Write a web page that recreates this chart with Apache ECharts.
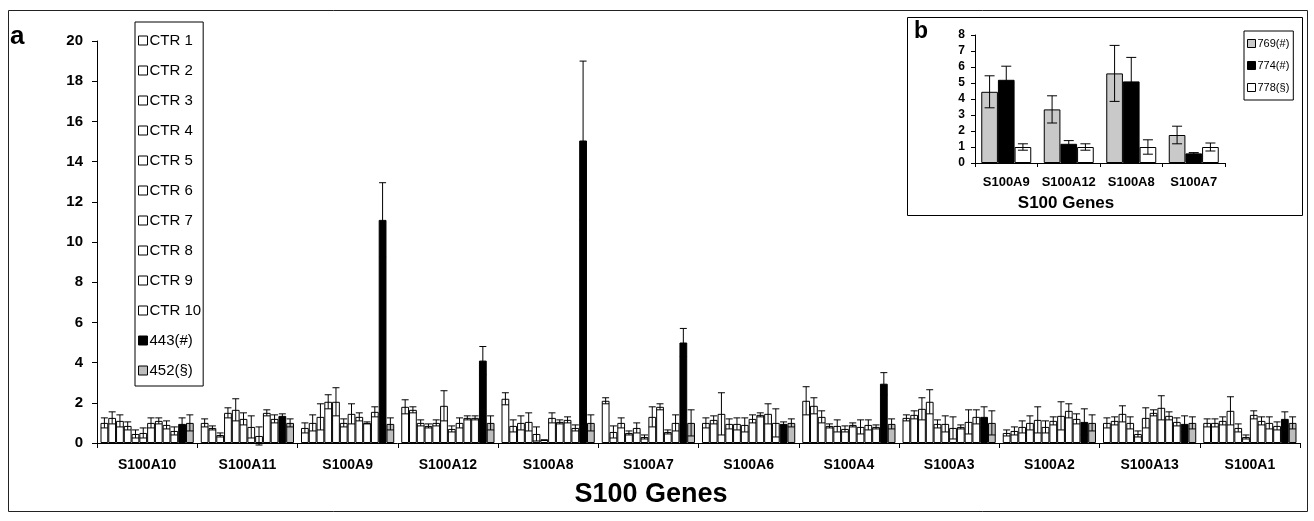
<!DOCTYPE html>
<html><head><meta charset="utf-8">
<script src="https://cdn.jsdelivr.net/npm/echarts@6/dist/echarts.min.js"></script>
<style>html,body{margin:0;padding:0;background:#fff}#c{width:1314px;height:521px}</style>
</head><body><div id="c"></div>
<script>
// ---- main panel (a) ----
const genes = ['S100A10','S100A11','S100A9','S100A12','S100A8','S100A7','S100A6','S100A4','S100A3','S100A2','S100A13','S100A1'];
const seriesNames = ['CTR 1','CTR 2','CTR 3','CTR 4','CTR 5','CTR 6','CTR 7','CTR 8','CTR 9','CTR 10','443(#)','452(§)'];
// values per gene, in series order (CTR1..CTR10, 443, 452)
const vS100A10 = [1.0, 1.25, 1.1, 0.85, 0.45, 0.5, 1.0, 1.1, 0.9, 0.6, 0.95, 1.0];
const vS100A11 = [1.0, 0.75, 0.4, 1.5, 1.65, 1.2, 0.8, 0.35, 1.5, 1.2, 1.35, 1.0];
const vS100A9  = [0.75, 1.0, 1.3, 2.05, 2.05, 1.0, 1.45, 1.3, 1.0, 1.55, 11.1, 0.95];
const vS100A12 = [1.8, 1.65, 1.0, 0.85, 1.0, 1.85, 0.7, 1.0, 1.25, 1.25, 4.1, 1.0];
const vS100A8  = [2.2, 0.85, 1.0, 1.05, 0.45, 0.15, 1.25, 1.05, 1.15, 0.75, 15.05, 1.0];
const vS100A7  = [2.1, 0.55, 1.0, 0.5, 0.75, 0.3, 1.3, 1.8, 0.55, 1.0, 5.0, 1.0];
const vS100A6  = [1.0, 1.15, 1.45, 0.95, 0.95, 0.9, 1.2, 1.4, 1.45, 1.0, 0.95, 1.0];
const vS100A4  = [2.1, 1.85, 1.3, 0.85, 0.85, 0.7, 0.9, 0.8, 0.9, 0.8, 2.95, 0.95];
const vS100A3  = [1.25, 1.4, 1.7, 2.05, 0.95, 0.95, 0.75, 0.8, 1.05, 1.3, 1.3, 1.0];
const vS100A2  = [0.5, 0.6, 0.8, 1.0, 1.15, 0.8, 1.1, 1.35, 1.6, 1.2, 1.05, 1.0];
const vS100A13 = [1.0, 1.1, 1.45, 1.0, 0.45, 1.25, 1.5, 1.75, 1.35, 1.05, 0.95, 1.0];
const vS100A1  = [1.0, 1.0, 1.1, 1.6, 0.75, 0.3, 1.4, 1.1, 1.0, 0.85, 1.2, 1.0];
// error bars (± SD) per gene
const eS100A10 = [0.25, 0.3, 0.3, 0.2, 0.2, 0.25, 0.25, 0.15, 0.2, 0.2, 0.3, 0.4];
const eS100A11 = [0.2, 0.1, 0.1, 0.25, 0.55, 0.3, 0.55, 0.45, 0.15, 0.2, 0.1, 0.2];
const eS100A9  = [0.25, 0.4, 0.65, 0.35, 0.7, 0.2, 0.5, 0.2, 0.05, 0.25, 1.85, 0.3];
const eS100A12 = [0.35, 0.15, 0.15, 0.1, 0.15, 0.75, 0.15, 0.25, 0.1, 0.1, 0.7, 0.35];
const eS100A8  = [0.3, 0.3, 0.35, 0.45, 0.35, 0.0, 0.25, 0.1, 0.15, 0.15, 3.95, 0.4];
const eS100A7  = [0.15, 0.3, 0.25, 0.1, 0.25, 0.1, 0.5, 0.15, 0.1, 0.4, 0.7, 0.65];
const eS100A6  = [0.25, 0.2, 1.05, 0.25, 0.3, 0.35, 0.2, 0.1, 0.5, 0.7, 0.1, 0.2];
const eS100A4  = [0.7, 0.4, 0.3, 0.1, 0.3, 0.15, 0.1, 0.35, 0.25, 0.1, 0.55, 0.25];
const eS100A3  = [0.15, 0.2, 0.55, 0.6, 0.2, 0.4, 0.55, 0.1, 0.6, 0.35, 0.5, 0.6];
const eS100A2  = [0.15, 0.2, 0.3, 0.35, 0.65, 0.3, 0.2, 0.7, 0.35, 0.25, 0.65, 0.4];
const eS100A13 = [0.25, 0.2, 0.4, 0.3, 0.15, 0.5, 0.15, 0.6, 0.2, 0.2, 0.4, 0.3];
const eS100A1  = [0.2, 0.2, 0.2, 0.7, 0.2, 0.1, 0.2, 0.2, 0.3, 0.2, 0.35, 0.3];
const yTicksMain = [0, 2, 4, 6, 8, 10, 12, 14, 16, 18, 20];

// ---- inset panel (b) ----
const insetGenes = ['S100A9','S100A12','S100A8','S100A7'];
const insetNames = ['769(#)','774(#)','778(§)'];
const v769 = [4.45, 3.35, 5.6, 1.75];
const v774 = [5.2, 1.2, 5.1, 0.6];
const v778 = [1.0, 1.0, 1.0, 1.0];
const e769 = [1.0, 0.85, 1.75, 0.55];
const e774 = [0.85, 0.2, 1.5, 0.05];
const e778 = [0.2, 0.2, 0.45, 0.25];

const mainVals = [vS100A10,vS100A11,vS100A9,vS100A12,vS100A8,vS100A7,vS100A6,vS100A4,vS100A3,vS100A2,vS100A13,vS100A1];
const mainErrs = [eS100A10,eS100A11,eS100A9,eS100A12,eS100A8,eS100A7,eS100A6,eS100A4,eS100A3,eS100A2,eS100A13,eS100A1];
const mainColors = ['#fff','#fff','#fff','#fff','#fff','#fff','#fff','#fff','#fff','#fff','#000','#bdbdbd'];
const insetVals = [v769, v774, v778];
const insetErrs = [e769, e774, e778];
const insetColors = ['#c9c9c9','#000','#fff'];

const FONT = 'Arial, "Liberation Sans", sans-serif';
const MAIN_GAP = 0.07, INSET_GAP = 0.2;

function errRenderer(nSeries, gap, capFrac) {
  return function (params, api) {
    const cat = api.value(0), s = api.value(1), v = api.value(2), e = api.value(3);
    const band = api.size([1, 0])[0];
    const groupW = band * (1 - gap);
    const bw = groupW / nSeries;
    const cx = api.coord([cat, v])[0] - groupW / 2 + (s + 0.5) * bw;
    const yt = api.coord([cat, v + e])[1];
    const yb = api.coord([cat, v - e])[1];
    const hw = bw * capFrac / 2;
    const st = { stroke: '#000', lineWidth: 1 };
    return { type: 'group', children: [
      { type: 'line', shape: { x1: cx, y1: yt, x2: cx, y2: yb }, style: st },
      { type: 'line', shape: { x1: cx - hw, y1: yt, x2: cx + hw, y2: yt }, style: st },
      { type: 'line', shape: { x1: cx - hw, y1: yb, x2: cx + hw, y2: yb }, style: st }
    ]};
  };
}

const series = [];
seriesNames.forEach((name, s) => {
  series.push({
    name, type: 'bar', xAxisIndex: 0, yAxisIndex: 0,
    data: genes.map((g, i) => mainVals[i][s]),
    barGap: '0%', barCategoryGap: (MAIN_GAP * 100) + '%',
    itemStyle: { color: mainColors[s], borderColor: '#000', borderWidth: 1 },
    emphasis: { disabled: true }, animation: false
  });
});
const mainErrData = [];
genes.forEach((g, i) => mainVals[i].forEach((v, s) => mainErrData.push([i, s, v, mainErrs[i][s]])));
series.push({
  type: 'custom', xAxisIndex: 0, yAxisIndex: 0, data: mainErrData,
  encode: { x: 0, y: 2 }, renderItem: errRenderer(12, MAIN_GAP, 0.9), z: 5, animation: false, silent: true
});
insetNames.forEach((name, s) => {
  series.push({
    name, type: 'bar', xAxisIndex: 1, yAxisIndex: 1,
    data: insetVals[s],
    barGap: '0%', barCategoryGap: (INSET_GAP * 100) + '%',
    itemStyle: { color: insetColors[s], borderColor: '#000', borderWidth: 1 },
    emphasis: { disabled: true }, animation: false
  });
});
const insetErrData = [];
insetGenes.forEach((g, i) => insetVals.forEach((arr, s) => insetErrData.push([i, s, arr[i], insetErrs[s][i]])));
series.push({
  type: 'custom', xAxisIndex: 1, yAxisIndex: 1, data: insetErrData,
  encode: { x: 0, y: 2 }, renderItem: errRenderer(3, INSET_GAP, 0.6), z: 5, animation: false, silent: true
});

const axisLineBlack = { show: true, lineStyle: { color: '#000', width: 1 } };

const option = {
  backgroundColor: '#fff',
  animation: false,
  textStyle: { fontFamily: FONT },
  graphic: [
    { type: 'rect', shape: { x: 8.5, y: 10.5, width: 1299, height: 501 }, style: { fill: 'none', stroke: '#222', lineWidth: 1 }, z: 0 },
    { type: 'rect', shape: { x: 907.5, y: 17.5, width: 395, height: 198 }, style: { fill: '#fff', stroke: '#000', lineWidth: 1 }, z: 0 },
    { type: 'text', left: 10, top: 24, style: { text: 'a', font: 'bold 26px ' + FONT, fill: '#000' } },
    { type: 'text', left: 914, top: 20, style: { text: 'b', font: 'bold 23px ' + FONT, fill: '#000' } },
    { type: 'text', x: 651, y: 495, style: { text: 'S100 Genes', font: 'bold 27px ' + FONT, fill: '#000', textAlign: 'center', textVerticalAlign: 'middle' } },
    { type: 'text', x: 1066, y: 203, style: { text: 'S100 Genes', font: 'bold 17px ' + FONT, fill: '#000', textAlign: 'center', textVerticalAlign: 'middle' } }
  ],
  grid: [
    { left: 97, right: 14, top: 41, bottom: 78 },
    { left: 975, right: 89, top: 35, bottom: 358 }
  ],
  legend: [
    {
      data: seriesNames, orient: 'vertical', left: 135, top: 22,
      padding: [11, 2, 8, 3], itemGap: 15, itemWidth: 9, itemHeight: 9, icon: 'rect',
      itemStyle: { borderColor: '#000', borderWidth: 1 },
      borderColor: '#000', borderWidth: 1, backgroundColor: '#fff',
      textStyle: { fontSize: 15, lineHeight: 15, color: '#000', fontFamily: FONT, padding: [0, 0, 0, -3] },
      selectedMode: false
    },
    {
      data: insetNames, orient: 'vertical', left: 1244, top: 31,
      padding: [7, 4, 7, 3], itemGap: 11, itemWidth: 8, itemHeight: 8, icon: 'rect',
      itemStyle: { borderColor: '#000', borderWidth: 1 },
      borderColor: '#000', borderWidth: 1, backgroundColor: '#fff',
      textStyle: { fontSize: 11, lineHeight: 11, color: '#000', fontFamily: FONT, padding: [0, 0, 0, -3] },
      selectedMode: false
    }
  ],
  xAxis: [
    {
      type: 'category', gridIndex: 0, data: genes,
      axisLine: axisLineBlack,
      axisTick: { show: true, length: 5, lineStyle: { color: '#000' } },
      axisLabel: { color: '#000', fontWeight: 'bold', fontSize: 14, margin: 15, fontFamily: FONT, interval: 0 }
    },
    {
      type: 'category', gridIndex: 1, data: insetGenes,
      axisLine: axisLineBlack,
      axisTick: { show: true, length: 4, lineStyle: { color: '#000' } },
      axisLabel: { color: '#000', fontWeight: 'bold', fontSize: 13, margin: 13, fontFamily: FONT, interval: 0 }
    }
  ],
  yAxis: [
    {
      type: 'value', gridIndex: 0, min: yTicksMain[0], max: yTicksMain[yTicksMain.length - 1], interval: 2,
      axisLine: axisLineBlack,
      axisTick: { show: true, length: 5, lineStyle: { color: '#000' } },
      splitLine: { show: false },
      axisLabel: { color: '#000', fontWeight: 'bold', fontSize: 15, margin: 14, fontFamily: FONT }
    },
    {
      type: 'value', gridIndex: 1, min: 0, max: 8, interval: 1,
      axisLine: axisLineBlack,
      axisTick: { show: true, length: 4, lineStyle: { color: '#000' } },
      splitLine: { show: false },
      axisLabel: { color: '#000', fontWeight: 'bold', fontSize: 12, margin: 10, fontFamily: FONT }
    }
  ],
  series
};

const chart = echarts.init(document.getElementById('c'), null, { renderer: 'canvas' });
chart.setOption(option);
</script>
</body></html>
